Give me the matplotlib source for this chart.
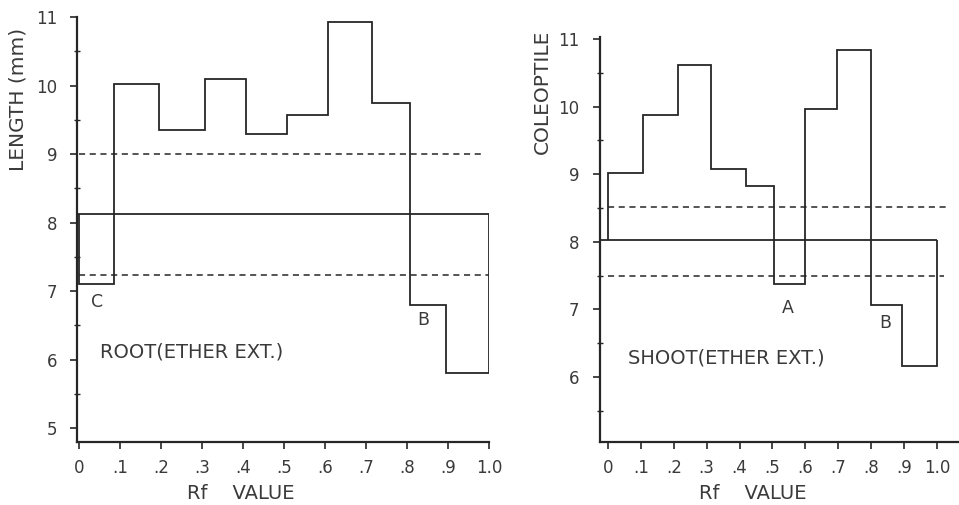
import matplotlib
matplotlib.use("Agg")
import matplotlib.pyplot as plt
from matplotlib.ticker import FixedLocator

# root (ether extract)
root_edges = [0, 0.085, 0.195, 0.307, 0.407, 0.507, 0.607, 0.715, 0.807, 0.895, 1.0]
root_len = [7.1, 10.02, 9.35, 10.1, 9.3, 9.57, 10.92, 9.75, 6.8, 5.8]
root_mean = 8.12
root_upper = 9.0
root_lower = 7.23

# shoot (ether extract)
shoot_edges = [0, 0.106, 0.213, 0.313, 0.419, 0.505, 0.599, 0.696, 0.799, 0.894, 1.0]
shoot_len = [9.02, 9.87, 10.62, 9.08, 8.83, 7.37, 9.96, 10.83, 7.06, 6.17]
shoot_mean = 8.02
shoot_upper = 8.52
shoot_lower = 7.5

rf_ticks = [0, 0.1, 0.2, 0.3, 0.4, 0.5, 0.6, 0.7, 0.8, 0.9, 1.0]
rf_labels = ["0", ".1", ".2", ".3", ".4", ".5", ".6", ".7", ".8", ".9", "1.0"]

ink = "#262626"
txt = "#3a3a3a"
plt.rcParams["font.family"] = ["DejaVu Sans"]

fig = plt.figure(figsize=(9.59, 5.05), dpi=100)
ax1 = fig.add_axes([0.0803, 0.1248, 0.4296, 0.8416])
ax2 = fig.add_axes([0.6257, 0.1248, 0.3733, 0.802])

dash = (0, (4, 3))


def style(ax, yticks, ypad):
    for s in ("top", "right"):
        ax.spines[s].set_visible(False)
    for s in ("left", "bottom"):
        ax.spines[s].set_color(ink)
        ax.spines[s].set_linewidth(1.6)
    ax.xaxis.set_major_locator(FixedLocator(rf_ticks))
    ax.set_xticklabels(rf_labels)
    ax.yaxis.set_major_locator(FixedLocator(yticks))
    ax.set_yticklabels([str(t) for t in yticks])
    ax.yaxis.set_minor_locator(FixedLocator([t + 0.5 for t in yticks[:-1]] + [yticks[0] - 0.5]))
    ax.tick_params(axis="x", direction="out", length=5, width=1.2, color=ink,
                   labelsize=12, labelcolor=txt, pad=7)
    ax.tick_params(axis="y", which="major", direction="out", length=5, width=1.2,
                   color=ink, labelsize=12, labelcolor=txt, pad=ypad)
    ax.tick_params(axis="y", which="minor", direction="inout", length=5, width=1.0, color=ink)


# left panel
ax1.set_xlim(-0.005, 1.0)
ax1.set_ylim(4.8, 11.0)
style(ax1, [5, 6, 7, 8, 9, 10, 11], 9)
ax1.stairs(root_len, root_edges, baseline=root_mean, color=ink, lw=1.3)
ax1.hlines(root_mean, -0.005, 1.0, color=ink, lw=1.3)
ax1.hlines(root_upper, 0, 0.99, color=ink, lw=1.1, linestyles=[dash])
ax1.hlines(root_lower, 0, 1.0, color=ink, lw=1.1, linestyles=[dash])
ax1.text(0.044, 6.84, "C", fontsize=12.5, color=txt, ha="center", va="center")
ax1.text(0.839, 6.58, "B", fontsize=12.5, color=txt, ha="center", va="center")
ax1.text(0.051, 6.11, "ROOT(ETHER EXT.)", fontsize=14, color=txt, ha="left", va="center")
ax1.set_ylabel("LENGTH (mm)", fontsize=14.5, color=txt)
ax1.yaxis.set_label_coords(-0.121, 0.805)
ax1.set_xlabel("Rf    VALUE", fontsize=14, color=txt)
ax1.xaxis.set_label_coords(0.398, -0.1)

# right panel
ax2.set_xlim(-0.024, 1.064)
ax2.set_ylim(5.04, 11.03)
style(ax2, [6, 7, 8, 9, 10, 11], 10)
ax2.stairs(shoot_len, shoot_edges, baseline=shoot_mean, color=ink, lw=1.3)
ax2.hlines(shoot_mean, -0.024, 1.0, color=ink, lw=1.3)
ax2.hlines(shoot_upper, 0, 1.04, color=ink, lw=1.1, linestyles=[dash])
ax2.hlines(shoot_lower, 0, 1.02, color=ink, lw=1.1, linestyles=[dash])
ax2.text(0.547, 7.02, "A", fontsize=12.5, color=txt, ha="center", va="center")
ax2.text(0.842, 6.8, "B", fontsize=12.5, color=txt, ha="center", va="center")
ax2.text(0.061, 6.28, "SHOOT(ETHER EXT.)", fontsize=14, color=txt, ha="left", va="center")
ax2.set_ylabel("COLEOPTILE", fontsize=14.5, color=txt)
ax2.yaxis.set_label_coords(-0.134, 0.864)
ax2.set_xlabel("Rf    VALUE", fontsize=14, color=txt)
ax2.xaxis.set_label_coords(0.427, -0.104)

fig.savefig("out.png", dpi=100)
